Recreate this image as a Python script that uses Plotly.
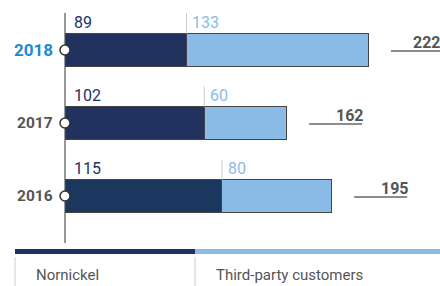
import plotly.graph_objects as go

years = ["2018", "2017", "2016"]
nornickel = [89, 102, 115]
third_party = [133, 60, 80]
totals = [222, 162, 195]
series_names = ["Nornickel", "Third-party customers"]

W, H = 440, 286
X0_PX = 65.0          # pixel of x=0
PX_PER_UNIT = 1.365
ROW_PX = 73.0
ROW0_PX = 50.0
BAR_PX = 33.0

xr = [-X0_PX / PX_PER_UNIT, (W - X0_PX) / PX_PER_UNIT]
yr = [(H - ROW0_PX) / ROW_PX, -ROW0_PX / ROW_PX]
pos = list(range(len(years)))
bw = BAR_PX / ROW_PX

dark_colors = ["#21325f", "#21325f", "#1c375e"]
light = "#89bbe6"
outline = "#444444"

fig = go.Figure()
fig.add_trace(go.Bar(y=pos, x=nornickel, orientation="h", width=bw,
                     marker=dict(color=dark_colors, line=dict(color=outline, width=1)),
                     name=series_names[0], hoverinfo="skip"))
fig.add_trace(go.Bar(y=pos, x=third_party, orientation="h", width=bw,
                     marker=dict(color=light, line=dict(color=outline, width=1)),
                     name=series_names[1], hoverinfo="skip"))

shapes = []
ann = []
# axis line
shapes.append(dict(type="line", xref="x", yref="y", x0=0, x1=0,
                   y0=(13 - ROW0_PX) / ROW_PX, y1=(243 - ROW0_PX) / ROW_PX,
                   line=dict(color="#333", width=1), layer="below"))

TOTAL_W_PX = 28
for i, p in enumerate(pos):
    top = p - bw / 2
    # separator
    shapes.append(dict(type="line", xref="x", yref="y", x0=nornickel[i], x1=nornickel[i],
                       y0=top, y1=top - 20 / ROW_PX, line=dict(color="#cccccc", width=1)))
    ann.append(dict(x=0, y=top, xref="x", yref="y", text=str(nornickel[i]),
                    xanchor="left", yanchor="bottom", xshift=7, yshift=0, showarrow=False,
                    font=dict(family="Roboto", size=16, color="#21325f")))
    ann.append(dict(x=nornickel[i], y=top, xref="x", yref="y", text=str(third_party[i]),
                    xanchor="left", yanchor="bottom", xshift=4, yshift=0, showarrow=False,
                    font=dict(family="Roboto", size=16, color=light)))
    # totals with underline
    tot = nornickel[i] + third_party[i]
    shapes.append(dict(type="line", xref="x", yref="y",
                       x0=tot + 23 / PX_PER_UNIT, x1=tot + 76 / PX_PER_UNIT,
                       y0=p + 1 / ROW_PX, y1=p + 1 / ROW_PX,
                       line=dict(color="#666666", width=1.5)))
    end_px = X0_PX + tot * PX_PER_UNIT
    shift = min(48, W - 1 - TOTAL_W_PX - end_px)
    ann.append(dict(x=tot, y=p, xref="x", yref="y", text="<b>%d</b>" % totals[i],
                    xanchor="left", yanchor="middle", xshift=shift, yshift=8, showarrow=False,
                    font=dict(family="Roboto", size=16, color="#555555")))
    # year labels
    is_cur = i == 0
    ann.append(dict(x=0, y=p, xref="x", yref="y", text="<b>%s</b>" % years[i],
                    xanchor="right", yanchor="middle", xshift=-10, yshift=0, showarrow=False,
                    font=dict(family="Roboto", size=17 if is_cur else 15.5,
                              color="#1a8bd0" if is_cur else "#555555")))

# markers on axis
fig.add_trace(go.Scatter(x=[0] * len(pos), y=pos, mode="markers", hoverinfo="skip",
                         marker=dict(size=10, color="white", line=dict(color="#333", width=1.5)),
                         showlegend=False))

# legend decoration
def px(x):
    return x / W

def py(y):
    return 1 - y / H

shapes.append(dict(type="rect", xref="paper", yref="paper", x0=px(15), x1=px(195),
                   y0=py(254), y1=py(249), fillcolor="#21325f", line=dict(width=0)))
shapes.append(dict(type="rect", xref="paper", yref="paper", x0=px(195), x1=px(440),
                   y0=py(254), y1=py(249), fillcolor=light, line=dict(width=0)))
for xv in (15, 195):
    shapes.append(dict(type="line", xref="paper", yref="paper", x0=px(xv), x1=px(xv),
                       y0=py(257), y1=py(286), line=dict(color="#cccccc", width=1)))
ann.append(dict(x=px(34), y=py(275), xref="paper", yref="paper", text=series_names[0],
                xanchor="left", yanchor="middle", showarrow=False,
                font=dict(family="Roboto", size=15, color="#555555")))
ann.append(dict(x=px(214), y=py(275), xref="paper", yref="paper", text=series_names[1],
                xanchor="left", yanchor="middle", showarrow=False,
                font=dict(family="Roboto", size=15, color="#555555")))

fig.update_layout(
    width=W, height=H, margin=dict(l=0, r=0, t=0, b=0),
    barmode="stack", showlegend=False,
    paper_bgcolor="white", plot_bgcolor="white",
    xaxis=dict(range=xr, visible=False, fixedrange=True),
    yaxis=dict(range=yr, visible=False, fixedrange=True),
    shapes=shapes, annotations=ann,
)
fig.write_html("out.html", config={"displayModeBar": False},
               post_script="document.body.style.margin='0';document.body.style.overflow='hidden';")
